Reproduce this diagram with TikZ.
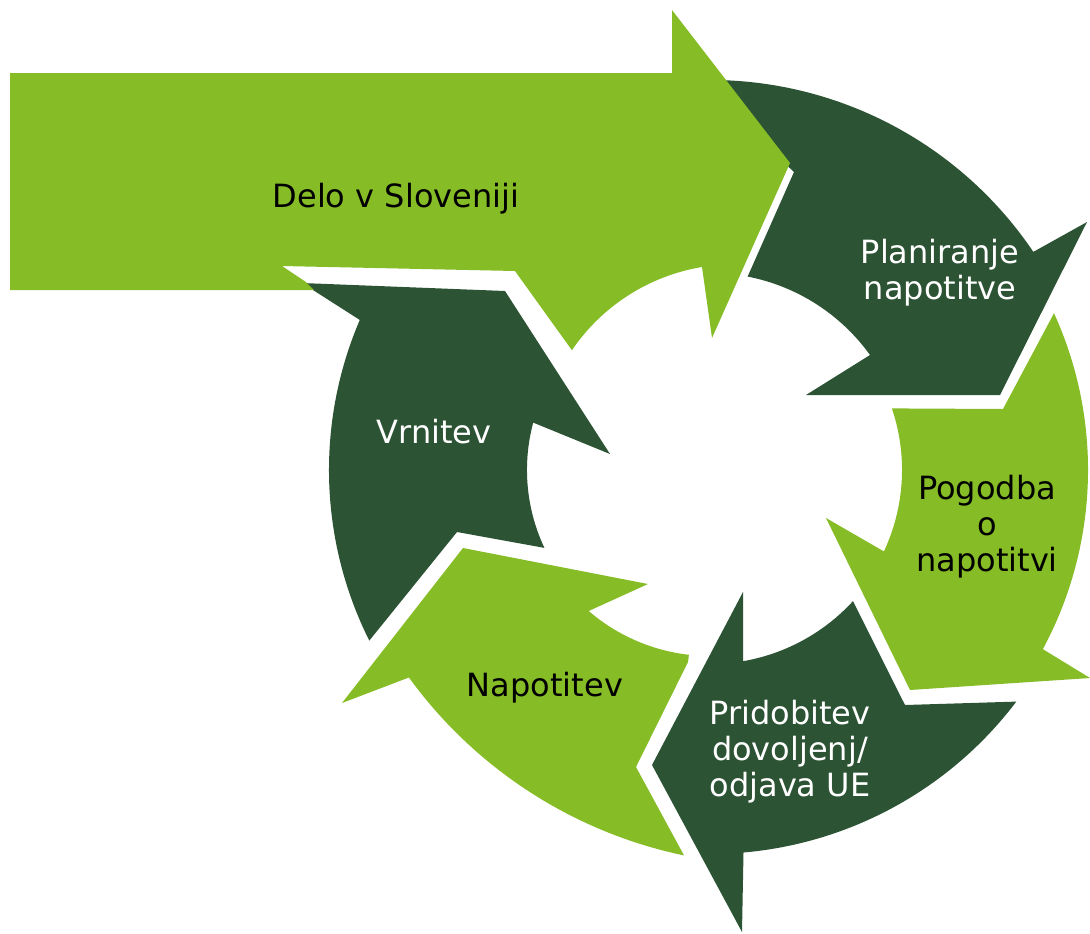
\documentclass[tikz,border=0pt]{standalone}
\usepackage{fontspec}
\setmainfont{DejaVu Sans}
\definecolor{lightgreen}{RGB}{134,188,37}
\definecolor{darkgreen}{RGB}{44,83,52}

\begin{document}
\begin{tikzpicture}[x=0.75pt,y=0.75pt,yscale=-1,
    light/.style={fill=lightgreen,draw=none},
    dark/.style={fill=darkgreen,draw=none},
    lbl/.style={align=center,font=\fontsize{24}{27}\selectfont}]
    \useasboundingbox (0,0) rectangle (1090,933);

    %Shape: Planiranje napotitve
    \fill[dark] (696.4,80.2) arc[start angle=-92, end angle=-34, radius=390] -- (1087,222) -- (1000,395) -- (806,395) -- (870,355) arc[start angle=-35.7, end angle=-79, radius=197] -- (794,172) -- cycle;
    %Shape: Pogodba o napotitvi
    \fill[light] (1054,313.2) arc[start angle=-24.5, end angle=28.3, radius=378] -- (1090,678) -- (910,690) -- (826,518) -- (883.9,551.4) arc[start angle=25.1, end angle=-18.7, radius=192] -- (1003,409) -- cycle;
    %Shape: Pridobitev dovoljenj
    \fill[dark] (1016.3,701.6) arc[start angle=37.1, end angle=85, radius=384] -- (742,932) -- (652,765) -- (743,592) -- (743,661.2) arc[start angle=80.2, end angle=42.5, radius=194] -- (905,705) -- cycle;
    %Shape: Napotitev
    \fill[light] (684,855.4) arc[start angle=101.8, end angle=144, radius=455] -- (342,703) -- (463,548) -- (648,584) -- (588.7,611) arc[start angle=130.7, end angle=96.5, radius=186] -- (688,662) -- (636,767) -- cycle;
    %Shape: Vrnitev
    \fill[dark] (369.3,640.6) arc[start angle=153.4, end angle=203.2, radius=381] -- (302,283) -- (505,291) -- (610,454) -- (533.2,422.6) arc[start angle=195, end angle=154.8, radius=183] -- (457,532) -- cycle;
    %Shape: Delo v Sloveniji (big arrow)
    \fill[light] (10,73) -- (672,73) -- (672,10) -- (790,163) -- (712,338) -- (702,267) arc[start angle=-99.4, end angle=-145.8, radius=196] -- (515,271) -- (282,266) -- (306,282) -- (314,290) -- (10,290) -- cycle;

    % Text Node
    \node[lbl] (delo) at (396,199) {Delo v Sloveniji};
    % Text Node
    \node[lbl,text=white] (plan) at (940,273) {Planiranje\\napotitve};
    % Text Node
    \node[lbl] (pogodba) at (987,527) {Pogodba\\o\\napotitvi};
    % Text Node
    \node[lbl,text=white] (pridob) at (790,752) {Pridobitev\\dovoljenj/\\odjava UE};
    % Text Node
    \node[lbl] (napot) at (545,688) {Napotitev};
    % Text Node
    \node[lbl,text=white] (vrnitev) at (434,432) {Vrnitev};

\end{tikzpicture}
\end{document}
